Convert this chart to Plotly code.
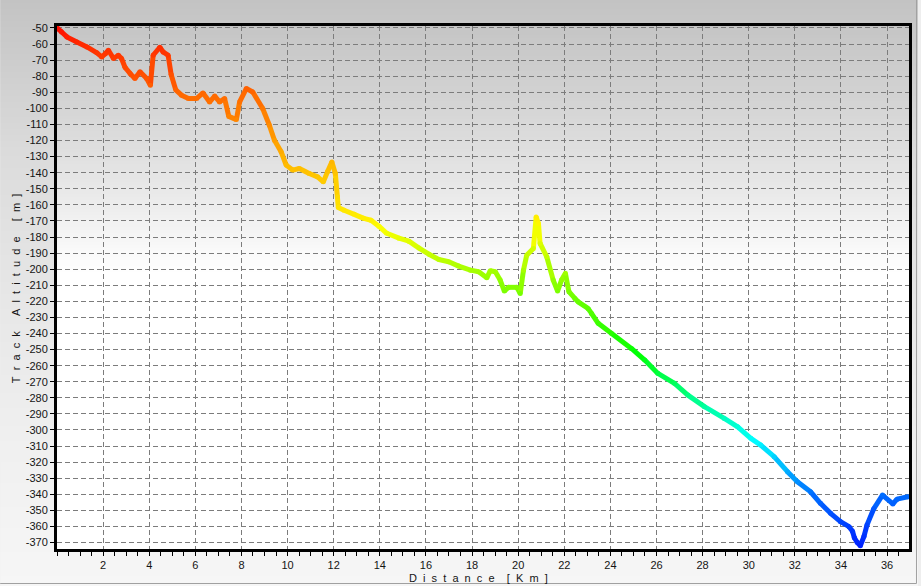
import colorsys
import plotly.graph_objects as go

# ---------------- data ----------------
distance_km = [
    0.0, 0.2, 0.43, 0.86, 1.3, 1.73, 1.94, 2.1, 2.23, 2.45, 2.66, 2.8, 2.95, 3.17, 3.38,
    3.6, 3.89, 4.05, 4.17, 4.46, 4.6, 4.82, 4.95, 5.15, 5.4, 5.7, 6.05, 6.33, 6.62, 6.84,
    7.05, 7.27, 7.45, 7.78, 7.92, 8.21, 8.49, 8.92, 9.21, 9.43, 9.72, 9.94, 10.22, 10.51,
    10.94, 11.3, 11.55, 11.73, 11.92, 12.07, 12.16, 12.2, 12.45, 12.89, 13.3, 13.62, 13.96,
    14.3, 14.83, 15.26, 15.7, 16.13, 16.56, 16.99, 17.42, 17.93, 18.29, 18.64, 18.79, 19.01,
    19.22, 19.4, 19.58, 19.94, 20.09, 20.23, 20.37, 20.66, 20.78, 20.88, 20.95, 21.24, 21.52,
    21.71, 21.88, 22.05, 22.2, 22.46, 22.6, 23.03, 23.18, 23.47, 24.04, 24.91, 25.49, 26.06,
    26.78, 27.36, 28.08, 28.94, 29.52, 30.09, 30.52, 31.1, 31.68, 32.11, 32.68, 33.11, 33.55,
    33.98, 34.35, 34.5, 34.58, 34.7, 34.84, 35.0, 35.13, 35.42, 35.8, 36.25, 36.43, 36.9,
]
altitude_m = [
    -50, -52.5, -55.6, -58.7, -61.8, -65.5, -68, -66, -63.9, -69, -67, -69, -74.5, -78.3, -81.4,
    -77.3, -81.4, -85.6, -67, -62, -64.9, -67, -79, -88.5, -91.8, -93.9, -93.9, -90.4, -96, -92.4,
    -96, -93.9, -105, -107, -96, -87.7, -89.8, -100.1, -110.5, -119.8, -127, -135.3, -138.4, -137.4,
    -140.5, -142.6, -145.7, -139.5, -133.3, -140.5, -155, -161.6, -163.4, -165.9, -168.4, -169.6, -173.3,
    -177.7, -180.7, -182.6, -186.9, -190.7, -194, -195.4, -198.1, -200.6, -201.6, -205.4, -201, -201.6,
    -206.8, -213.6, -211.3, -211.3, -215.1, -200.6, -191.3, -187.1, -167.5, -171.6, -184, -192.3, -206.8,
    -213.6, -206.8, -202.6, -214, -218.2, -220.3, -224.4, -227.5, -233.7, -239.9, -249.3, -256.5, -264.8,
    -271, -278.3, -285.5, -292.8, -298, -305.2, -309.4, -316.6, -325.9, -332.2, -338.4, -345.6, -351.8,
    -357, -360.1, -363, -367, -369.8, -372, -366, -359, -349, -340.5, -346, -343, -341.5,
]
x_tick_values = list(range(2, 37, 2))
x_tick_labels = [str(v) for v in x_tick_values]
y_tick_values = list(range(-50, -371, -10))
y_tick_labels = [str(v) for v in y_tick_values]

# ---------------- styling ----------------
W, H = 921, 586
L, R, T, B = 57, 9, 26, 37
PW, PH = W - L - R, H - T - B
FONT = "Liberation Sans, Arial, sans-serif"
TXT = "#141414"

# altitude -> hue (degrees) colour ramp
hue_stops = [(-372, 232), (-340, 214), (-310, 184), (-280, 152), (-250, 118), (-210, 88),
             (-170, 57), (-135, 44), (-90, 24), (-60, 10), (-50, 3)]


def alt_color(a):
    if a <= hue_stops[0][0]:
        h = hue_stops[0][1]
    elif a >= hue_stops[-1][0]:
        h = hue_stops[-1][1]
    else:
        for (a0, h0), (a1, h1) in zip(hue_stops[:-1], hue_stops[1:]):
            if a0 <= a <= a1:
                h = h0 + (h1 - h0) * (a - a0) / (a1 - a0)
                break
    r, g, b = colorsys.hsv_to_rgb(h / 360.0, 1.0, 1.0)
    return f"rgb({int(r*255)},{int(g*255)},{int(b*255)})"


def interp(table, v):
    for (p0, c0), (p1, c1) in zip(table[:-1], table[1:]):
        if p0 <= v <= p1:
            return c0 + (c1 - c0) * (v - p0) / (p1 - p0)
    return table[-1][1]


def px_x(px):
    return (px - L) / PW


def px_y(py):
    return (H - B - py) / PH


fig = go.Figure()

# coloured profile: one short segment per pair of points
for i in range(len(distance_km) - 1):
    a_mid = (altitude_m[i] + altitude_m[i + 1]) / 2
    fig.add_trace(go.Scatter(
        x=[distance_km[i], distance_km[i + 1]], y=[altitude_m[i], altitude_m[i + 1]],
        mode="lines", line=dict(color=alt_color(a_mid), width=5),
        hoverinfo="skip", showlegend=False))
fig.add_trace(go.Scatter(
    x=distance_km, y=altitude_m, mode="markers",
    marker=dict(size=5, color=[alt_color(a) for a in altitude_m], line=dict(width=0)),
    hoverinfo="skip", showlegend=False))

shapes = []
# outer background gradient
outer_grad = [(0, 195), (150, 219), (300, 231), (450, 240), (586, 246)]
step = 3
for py in range(0, H, step):
    v = int(round(interp(outer_grad, py + step / 2)))
    shapes.append(dict(type="rect", xref="paper", yref="paper", layer="below",
                       x0=px_x(0), x1=px_x(W), y0=px_y(py + step), y1=px_y(py),
                       fillcolor=f"rgb({v},{v},{v})", line=dict(width=0)))
# plot-area gradient
plot_grad = [(26, 197), (100, 211), (180, 230), (250, 249), (275, 255), (549, 255)]
for py in range(T, 276, step):
    v = int(round(interp(plot_grad, py + step / 2)))
    shapes.append(dict(type="rect", xref="paper", yref="paper", layer="below",
                       x0=0, x1=1, y0=px_y(py + step), y1=px_y(py),
                       fillcolor=f"rgb({v},{v},{v})", line=dict(width=0)))
shapes.append(dict(type="rect", xref="paper", yref="paper", layer="below",
                   x0=0, x1=1, y0=0, y1=px_y(276), fillcolor="#ffffff", line=dict(width=0)))
# outer frame (right and bottom edges)
shapes.append(dict(type="line", xref="paper", yref="paper", layer="above",
                   x0=px_x(919.5), x1=px_x(919.5), y0=px_y(583.5), y1=px_y(0),
                   line=dict(color="#a0a0a0", width=1)))
shapes.append(dict(type="line", xref="paper", yref="paper", layer="above",
                   x0=px_x(0), x1=px_x(919.5), y0=px_y(583.5), y1=px_y(583.5),
                   line=dict(color="#a0a0a0", width=1)))

NB = "\u00a0"


def spaced(words, gap, wordgap):
    return (NB * wordgap).join((NB * gap).join(list(w)) for w in words)


annotations = [
    dict(text=spaced(["Distance", "[Km]"], 2, 4), xref="paper", yref="paper",
         x=px_x(480), y=px_y(578), xanchor="center", yanchor="middle", showarrow=False,
         font=dict(family=FONT, size=11, color=TXT)),
    dict(text=spaced(["Track", "Altitude", "[m]"], 2, 5), xref="paper", yref="paper",
         x=px_x(16), y=px_y(288), xanchor="center", yanchor="middle", showarrow=False,
         textangle=-90, font=dict(family=FONT, size=11, color=TXT)),
]

grid = dict(showgrid=True, gridcolor="#7c7c7c", gridwidth=1, griddash="5px,3px")

fig.update_layout(
    width=W, height=H, margin=dict(l=L, r=R, t=T, b=B, pad=0),
    paper_bgcolor="#eeeeee", plot_bgcolor="rgba(0,0,0,0)",
    shapes=shapes, annotations=annotations, showlegend=False,
    xaxis=dict(range=[0, 36.95], tickmode="array", tickvals=x_tick_values, ticktext=x_tick_labels,
               ticks="outside", ticklen=4, tickwidth=1, tickcolor="#000",
               minor=dict(tick0=0, dtick=0.5, ticks="outside", ticklen=4, tickcolor="#000",
                          tickwidth=1, showgrid=False),
               showline=True, linecolor="#000", linewidth=3, mirror=True, zeroline=False,
               tickfont=dict(family=FONT, size=11, color=TXT), **grid),
    yaxis=dict(range=[-374, -48.8], tickmode="array", tickvals=y_tick_values, ticktext=y_tick_labels,
               ticks="outside", ticklen=4, tickwidth=1, tickcolor="#000",
               showline=True, linecolor="#000", linewidth=3, mirror=True, zeroline=False,
               tickfont=dict(family=FONT, size=11, color=TXT), **grid),
)

fig.write_html("out.html", config={"displayModeBar": False},
               post_script="document.body.style.margin='0';document.body.style.overflow='hidden';")
